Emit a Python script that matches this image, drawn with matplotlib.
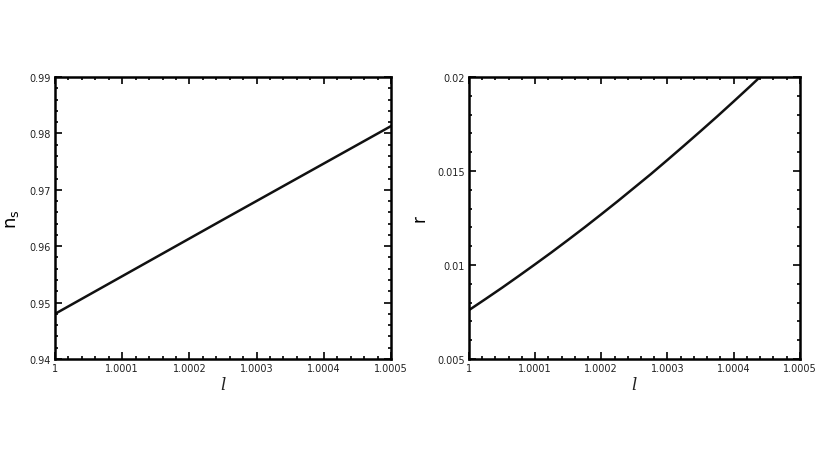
import matplotlib
matplotlib.use('Agg')
import matplotlib.pyplot as plt
from matplotlib.ticker import AutoMinorLocator, FixedFormatter, FixedLocator

# Data
l_ns = [1.0, 1.00025, 1.0005]
ns_vals = [0.948, 0.9647, 0.9813]

l_r = [1.0, 1.000025, 1.00005, 1.000075, 1.0001, 1.000125, 1.00015, 1.000175,
       1.0002, 1.000225, 1.00025, 1.000275, 1.0003, 1.000325, 1.00035, 1.000375,
       1.0004, 1.000425, 1.00045]
r_vals = [0.00760, 0.00819, 0.00879, 0.00941, 0.01004, 0.01068, 0.01134, 0.01201,
          0.01270, 0.01340, 0.01412, 0.01484, 0.01559, 0.01635, 0.01712, 0.01790,
          0.01870, 0.01951, 0.02034]

x_ticks = [1.0, 1.0001, 1.0002, 1.0003, 1.0004, 1.0005]
x_labels = ['1', '1.0001', '1.0002', '1.0003', '1.0004', '1.0005']
ns_ticks = [0.94, 0.95, 0.96, 0.97, 0.98, 0.99]
ns_labels = ['0.94', '0.95', '0.96', '0.97', '0.98', '0.99']
r_ticks = [0.005, 0.01, 0.015, 0.02]
r_labels = ['0.005', '0.01', '0.015', '0.02']


def style_axes(ax, yticks, ylabels, ylim):
    ax.set_xlim(1.0, 1.0005)
    ax.set_ylim(*ylim)
    ax.xaxis.set_major_locator(FixedLocator(x_ticks))
    ax.xaxis.set_major_formatter(FixedFormatter(x_labels))
    ax.yaxis.set_major_locator(FixedLocator(yticks))
    ax.yaxis.set_major_formatter(FixedFormatter(ylabels))
    ax.xaxis.set_minor_locator(AutoMinorLocator(5))
    ax.yaxis.set_minor_locator(AutoMinorLocator(5))
    ax.tick_params(which='both', direction='in', top=True, right=True,
                   labelsize=7, width=1.2, pad=3, labelcolor='#222222')
    ax.tick_params(which='major', length=5)
    ax.tick_params(which='minor', length=2.5)
    for sp in ax.spines.values():
        sp.set_linewidth(1.8)
    ax.set_xlabel('l', fontsize=12, fontstyle='italic', family='DejaVu Serif',
                  labelpad=2, color='#222222')


fig = plt.figure(figsize=(8.17, 4.6), dpi=100)
ax1 = fig.add_axes([0.0673, 0.2174, 0.4113, 0.613])
ax2 = fig.add_axes([0.574, 0.2174, 0.405, 0.613])

ax1.plot(l_ns, ns_vals, color='#111111', lw=1.8)
style_axes(ax1, ns_ticks, ns_labels, (0.94, 0.99))
ax1.set_ylabel(r'n$_{\mathsf{s}}$', fontsize=13, labelpad=6)

ax2.plot(l_r, r_vals, color='#111111', lw=1.8)
style_axes(ax2, r_ticks, r_labels, (0.005, 0.02))
ax2.set_ylabel('r', fontsize=12, labelpad=6)

fig.savefig('out.png', dpi=100)
